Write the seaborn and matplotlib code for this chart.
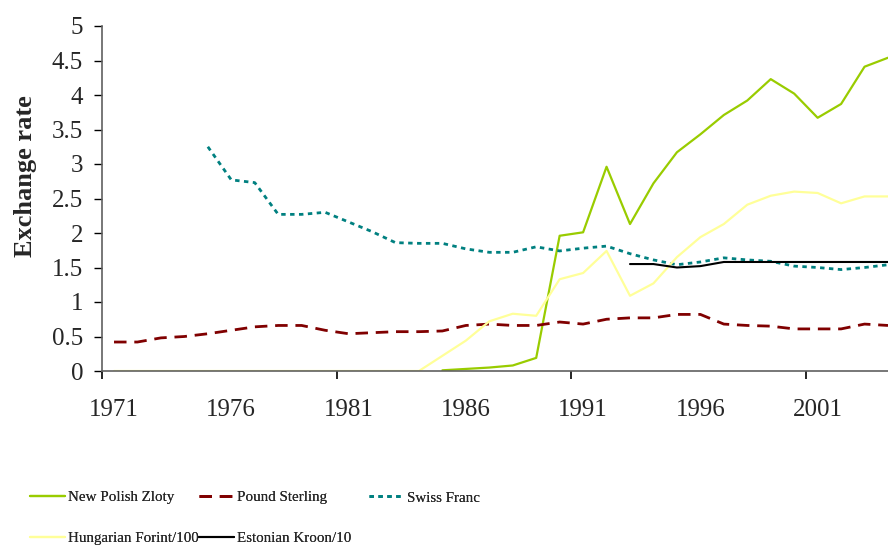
import numpy as np
import pandas as pd
import matplotlib
matplotlib.use("Agg")
import matplotlib.pyplot as plt
import seaborn as sns

# Exchange rate data, 1971-2004
years = list(range(1971, 2005))
nan = np.nan

polish_zloty = [nan] * 14 + [0.01, 0.03, 0.05, 0.08, 0.19, 1.96, 2.01, 2.96, 2.13, 2.72,
                             3.17, 3.43, 3.71, 3.92, 4.23, 4.02, 3.67, 3.87, 4.41, 4.54]
pound_sterling = [0.42, 0.42, 0.48, 0.50, 0.54, 0.59, 0.64, 0.66, 0.66, 0.59,
                  0.54, 0.555, 0.57, 0.57, 0.58, 0.66, 0.68, 0.66, 0.66, 0.71,
                  0.68, 0.75, 0.77, 0.77, 0.82, 0.82, 0.68, 0.66, 0.65, 0.61,
                  0.61, 0.61, 0.68, 0.66]
swiss_franc = [nan] * 4 + [3.25, 2.77, 2.73, 2.27, 2.27, 2.30, 2.16, 2.02, 1.86, 1.85,
                           1.85, 1.77, 1.72, 1.72, 1.80, 1.74, 1.78, 1.81, 1.70, 1.61,
                           1.54, 1.58, 1.64, 1.61, 1.59, 1.52, 1.50, 1.47, 1.50, 1.54]
hungarian_forint = [0.0] * 14 + [0.22, 0.44, 0.72, 0.83, 0.80, 1.33, 1.42, 1.74, 1.09, 1.27,
                                 1.65, 1.94, 2.13, 2.41, 2.54, 2.60, 2.58, 2.43, 2.53, 2.53]
estonian_kroon = [nan] * 22 + [1.55, 1.55, 1.50, 1.52, 1.58, 1.58, 1.58, 1.58, 1.58, 1.58,
                               1.58, 1.58]

series_names = ["New Polish Zloty", "Pound Sterling", "Swiss Franc",
                "Hungarian Forint/100", "Estonian Kroon/10"]
x_tick_years = [1971, 1976, 1981, 1986, 1991, 1996, 2001]

df = pd.DataFrame({
    "year": years,
    "New Polish Zloty": polish_zloty,
    "Pound Sterling": pound_sterling,
    "Swiss Franc": swiss_franc,
    "Hungarian Forint/100": hungarian_forint,
    "Estonian Kroon/10": estonian_kroon,
})

styles = {
    "New Polish Zloty": dict(color="#99CC00", linestyle="-", linewidth=1.6),
    "Pound Sterling": dict(color="#800000", linestyle=(0, (4.5, 2.8)), linewidth=2.0),
    "Swiss Franc": dict(color="#008080", linestyle=(0, (1.6, 1.6)), linewidth=2.0),
    "Hungarian Forint/100": dict(color="#FFFF99", linestyle="-", linewidth=1.6),
    "Estonian Kroon/10": dict(color="#000000", linestyle="-", linewidth=1.5),
}

sns.set_theme(style="white")
plt.rcParams['font.family'] = ['Liberation Serif', 'DejaVu Serif']

fig = plt.figure(figsize=(8.88, 5.48), dpi=100)
ax = fig.add_axes([102.3 / 888, (548 - 371) / 548, (888 - 102.3) / 888, 345 / 548])

handles = {}
for name in series_names:
    sub = df[["year", name]].dropna()
    sns.lineplot(data=sub, x="year", y=name, ax=ax, legend=False, label=name,
                 **styles[name])
    handles[name] = ax.get_lines()[-1]

ax.set_xlim(1970.5, 2004.0)
ax.set_ylim(0, 5)
ax.set_yticks(np.arange(0, 5.01, 0.5))
ax.set_yticklabels([f"{v:g}" for v in np.arange(0, 5.01, 0.5)])
ax.set_xticks(x_tick_years)
ax.set_xticklabels([str(y) for y in x_tick_years])
ax.set_xticks([1970.5, 1980.5, 1990.5, 2000.5], minor=True)

ax.tick_params(axis="y", which="major", left=True, length=5.8, width=1, color="black",
               labelsize=18, pad=8)
ax.tick_params(axis="x", which="major", bottom=False, length=0, labelsize=18, pad=20)
ax.tick_params(axis="x", which="minor", bottom=True, length=5.8, width=1.2, color="black")

sns.despine(ax=ax)
for side in ["left", "bottom"]:
    ax.spines[side].set_color("#606060")
    ax.spines[side].set_linewidth(1.2)
ax.set_xlabel("")
ax.set_ylabel("Exchange rate", fontsize=19, fontweight="bold", va="center")
ax.yaxis.set_label_coords(-0.098, 0.565)
ax.grid(False)
if ax.get_legend() is not None:
    ax.get_legend().remove()

# legend: three columns placed at fixed positions
columns = [(["New Polish Zloty", "Hungarian Forint/100"], 30),
           (["Pound Sterling", "Estonian Kroon/10"], 199),
           (["Swiss Franc"], 369)]
for names, x_px in columns:
    leg = fig.legend([handles[n] for n in names], names, loc="upper left",
                     bbox_to_anchor=(x_px / 888, 1 - 491 / 548), frameon=False,
                     fontsize=10.8, borderpad=0, borderaxespad=0, handlelength=2.33,
                     handletextpad=0.2, labelspacing=1.8)
    fig.add_artist(leg)

fig.savefig("out.png", dpi=100)
